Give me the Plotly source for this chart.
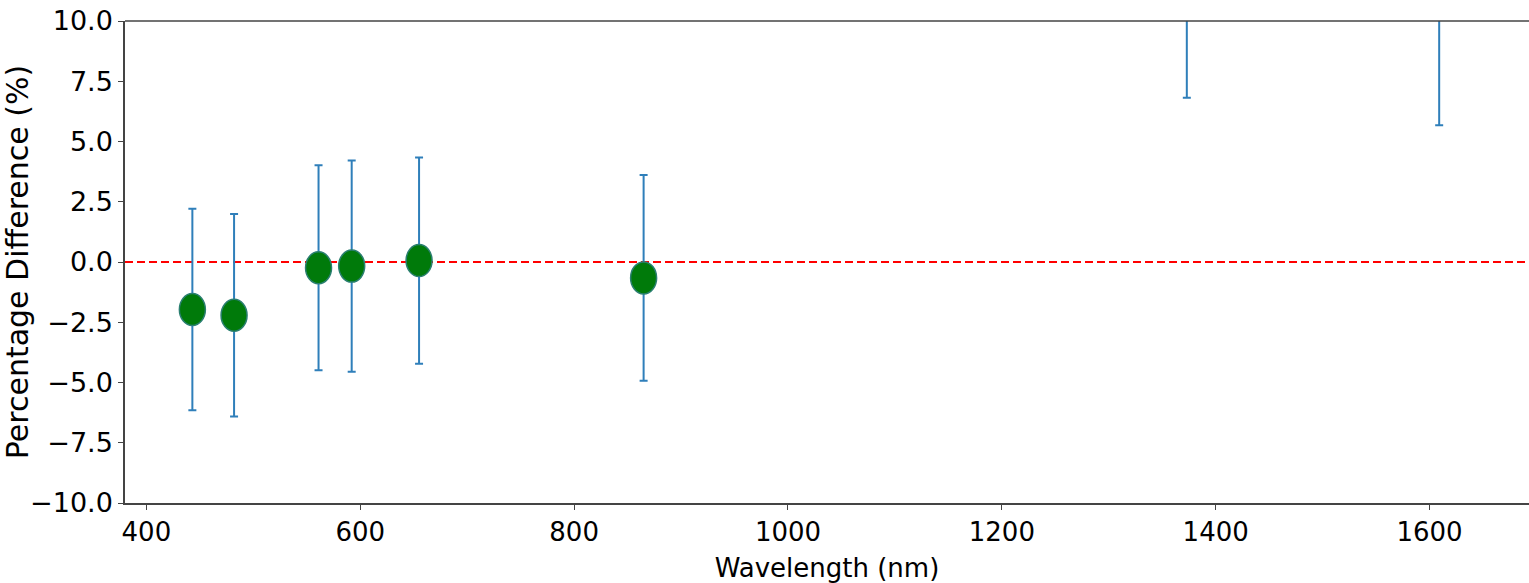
import plotly.graph_objects as go

wavelengths = [443, 482, 561, 592, 655, 865, 1373, 1609]
pct_diff = [-1.97, -2.21, -0.24, -0.17, 0.06, -0.66, 12.5, 12.8]
pct_err = [4.18, 4.20, 4.25, 4.38, 4.28, 4.27, 5.68, 7.13]

x_ticks = [400, 600, 800, 1000, 1200, 1400, 1600]
y_ticks = [-10, -7.5, -5, -2.5, 0, 2.5, 5, 7.5, 10]

FONT = "DejaVu Sans"

fig = go.Figure()
fig.add_trace(go.Scatter(
    x=wavelengths, y=pct_diff, mode="markers",
    marker=dict(size=1, color="rgba(0,0,0,0)"),
    error_y=dict(type="data", array=pct_err, visible=True,
                 color="#2f7fba", thickness=2, width=4),
    showlegend=False, hoverinfo="x+y",
))

shapes = [dict(type="line", xref="paper", yref="y", x0=0, x1=1, y0=0, y1=0,
               line=dict(color="red", width=2, dash="8px,4px"), layer="below"),
          dict(type="line", xref="paper", yref="paper", x0=0, x1=1, y0=1, y1=1,
               line=dict(color="#444", width=1.5), layer="above")]
for wx, wy in zip(wavelengths, pct_diff):
    shapes.append(dict(type="circle", xref="x", yref="y",
                       xsizemode="pixel", ysizemode="pixel",
                       xanchor=wx, yanchor=wy,
                       x0=-13, x1=13, y0=-16, y1=16,
                       fillcolor="#007a0a", line=dict(color="#2a7f70", width=1.5),
                       layer="above"))

fig.update_layout(
    width=1529, height=583,
    margin=dict(l=125, r=0, t=21, b=80),
    plot_bgcolor="white", paper_bgcolor="white",
    font=dict(family=FONT, color="black", size=24),
    shapes=shapes,
    xaxis=dict(range=[380, 1693], tickvals=x_ticks, ticktext=[str(v) for v in x_ticks],
               showgrid=False, zeroline=False, showline=True, linecolor="#444", linewidth=1.5,
               ticks="outside", ticklen=5, tickcolor="#444", tickwidth=1.2,
               tickfont=dict(family=FONT, size=26),
               title=dict(text="Wavelength (nm)", font=dict(family=FONT, size=26), standoff=14)),
    yaxis=dict(range=[-10, 10], tickvals=y_ticks, tickformat=".1f",
               showgrid=False, zeroline=False, showline=True, linecolor="#444", linewidth=1.5,
               ticks="outside", ticklen=5, tickcolor="#444", tickwidth=1.2,
               tickfont=dict(family=FONT, size=27),
               title=dict(text="Percentage Difference (%)", font=dict(family=FONT, size=30), standoff=4)),
)

fig.write_html("out.html")
